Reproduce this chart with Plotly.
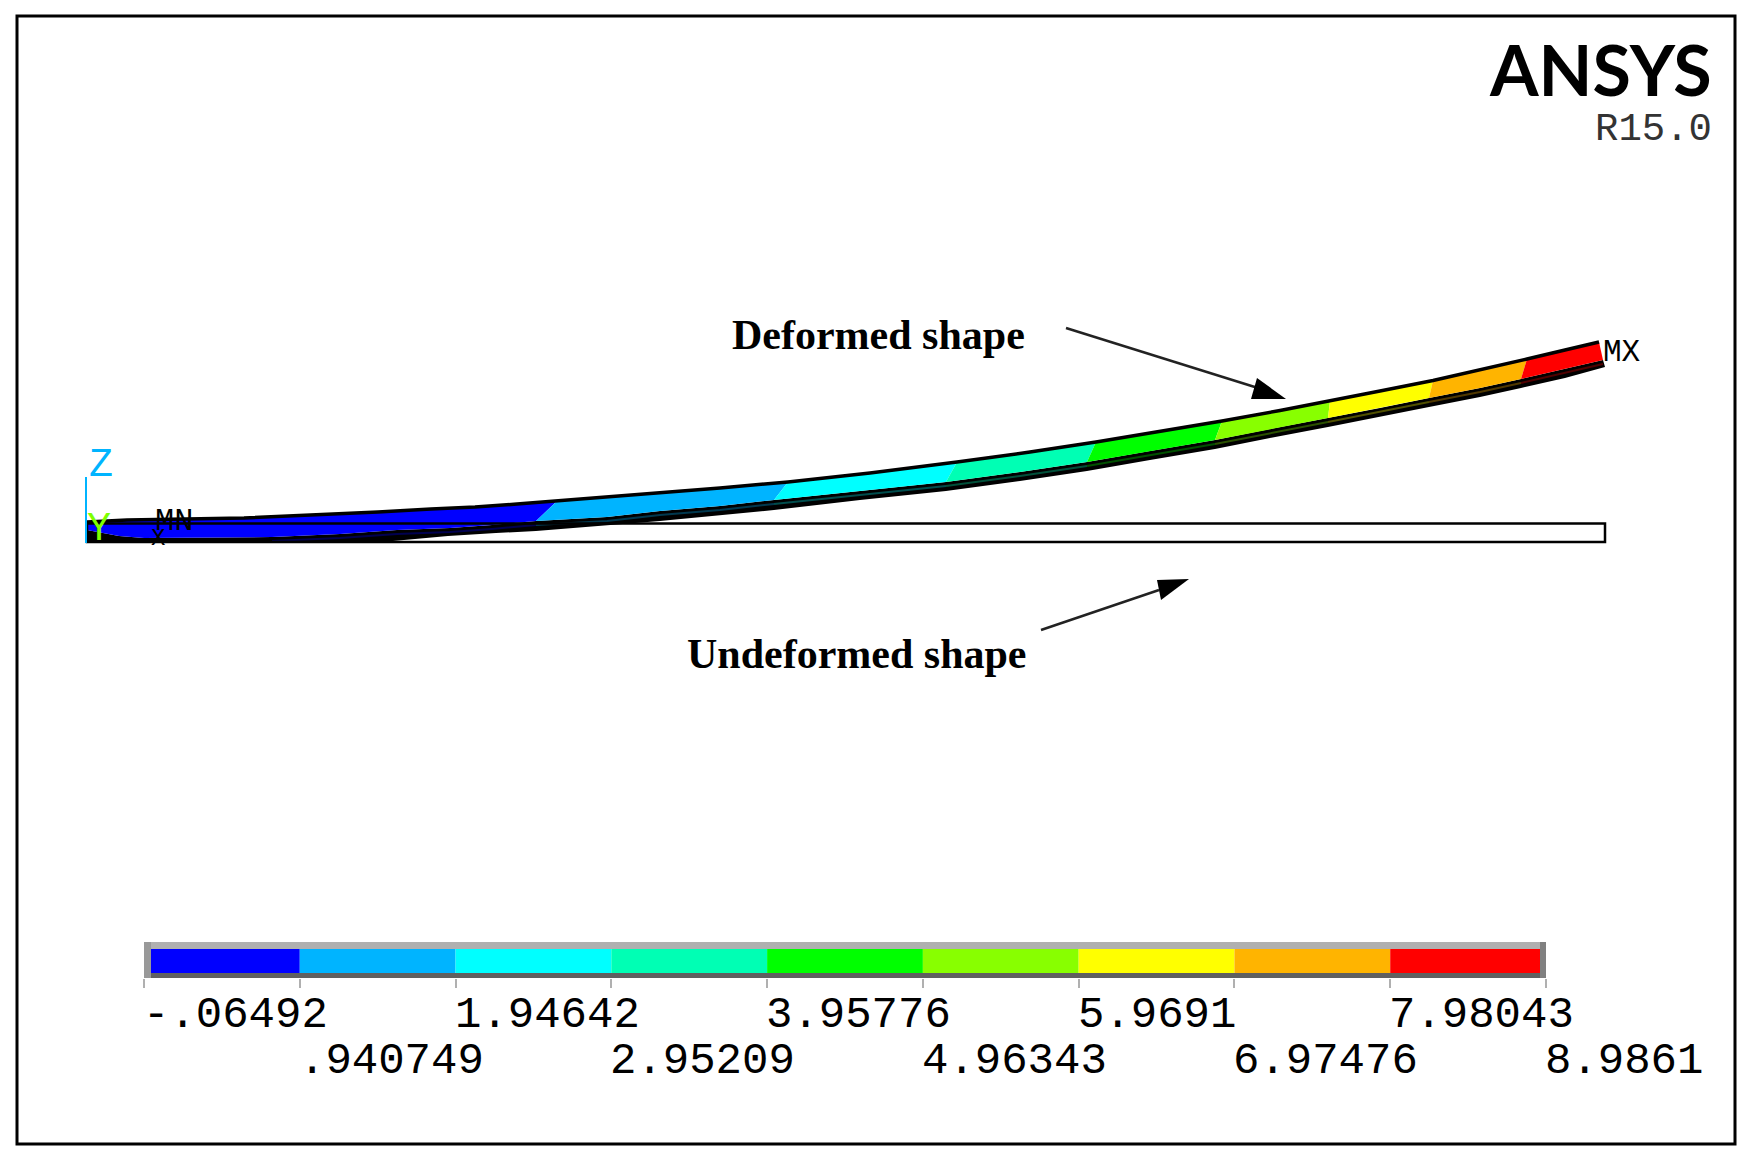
import plotly.graph_objects as go

# contour levels and colours of the legend bar
levels = [-0.06492, 0.940749, 1.94642, 2.95209, 3.95776, 4.96343, 5.9691, 6.97476, 7.98043, 8.9861]
level_labels = ["-.06492", ".940749", "1.94642", "2.95209", "3.95776", "4.96343", "5.9691", "6.97476", "7.98043", "8.9861"]
band_colors = ["#0000ff", "#00b4ff", "#00ffff", "#00ffb4", "#00ff00", "#88ff00", "#ffff00", "#ffb400", "#ff0000"]
band_dark = ["#000050", "#00384f", "#004d4d", "#00503a", "#005000", "#2a5000", "#505000", "#503800", "#500000"]

# deformed beam (image pixels)
top_x = [87, 127, 244, 316, 378, 431, 475, 517, 557, 622, 660, 720, 788, 870, 957, 1030, 1096, 1160, 1222, 1280, 1330, 1380, 1433, 1480, 1527, 1565, 1599]
top_y = [522, 520, 518, 515, 512, 509, 507, 504, 501, 496, 493, 488, 482, 473, 462, 452, 442, 431.5, 421, 410.5, 401, 391, 380.5, 370, 359, 350, 342]
mid_x = [87, 119, 144, 272, 340, 397, 450, 492, 536, 607, 660, 720, 774, 860, 946, 1020, 1087, 1150, 1215, 1270, 1328, 1380, 1429, 1480, 1521, 1565, 1603]
mid_y = [530, 536, 538, 537, 534, 530, 528, 525, 521, 517, 511, 506, 500, 491, 482, 472, 462, 451, 440, 429, 418, 408, 398, 388, 379, 369, 360]
bot_x = [87, 393, 448, 496, 536, 575, 611, 660, 774, 860, 946, 1020, 1087, 1150, 1215, 1270, 1328, 1380, 1429, 1480, 1521, 1565, 1605]
bot_y = [541, 541, 536, 533, 531, 528, 525, 521, 510, 500, 491, 481, 471, 460, 449, 438, 427, 417, 407, 397, 388, 378, 367]

# where each contour band meets the top and the bottom of the beam
band_top_x = [87, 557, 788, 957, 1096, 1222, 1330, 1433, 1527, 1599]
band_mid_x = [87, 536, 774, 946, 1087, 1215, 1328, 1429, 1521, 1603]

# undeformed outline
undef_x = [87, 1605, 1605, 87, 87]
undef_y = [523.5, 523.5, 542, 542, 523.5]

# pointers
deformed_arrow_x = [1066, 1258]
deformed_arrow_y = [328, 388]
deformed_head_x = [1257, 1286, 1251]
deformed_head_y = [378, 399, 399]
undeformed_arrow_x = [1041, 1159]
undeformed_arrow_y = [630, 590]
undeformed_head_x = [1157, 1189, 1161]
undeformed_head_y = [580, 579, 600]

# the page puts the figure 8px in from the corner, so the axes start there
PAGE_OFFSET = 8
FIG_W = 1750 - PAGE_OFFSET
FIG_H = 1160 - PAGE_OFFSET

fig = go.Figure()


def poly(xs, ys, color):
    fig.add_trace(go.Scatter(x=xs, y=ys, mode="lines", fill="toself", fillcolor=color,
                             line=dict(color=color, width=0), hoverinfo="skip", showlegend=False))


def line(xs, ys, color, width):
    fig.add_trace(go.Scatter(x=xs, y=ys, mode="lines", line=dict(color=color, width=width),
                             hoverinfo="skip", showlegend=False))


# black underside, then the dark tinted strip in it
poly(mid_x + bot_x[::-1], mid_y + bot_y[::-1], "black")
for i in range(len(band_colors)):
    xs = [x for x in mid_x if band_mid_x[i] <= x <= band_mid_x[i + 1] and x >= 272]
    ys = [mid_y[mid_x.index(x)] + 4 for x in xs]
    line(xs, ys, band_dark[i], 2)

# coloured face of the beam
for i in range(len(band_colors)):
    tx = [x for x in top_x if band_top_x[i] <= x <= band_top_x[i + 1]]
    ty = [top_y[top_x.index(x)] for x in tx]
    mx = [x for x in mid_x if band_mid_x[i] <= x <= band_mid_x[i + 1]]
    my = [mid_y[mid_x.index(x)] for x in mx]
    poly(tx + mx[::-1], ty + my[::-1], band_colors[i])

line(top_x, top_y, "black", 3.5)
line(undef_x, undef_y, "black", 2.5)

# triad
line([86, 86], [477, 543], "#00b4ff", 2)

# pointers
line(deformed_arrow_x, deformed_arrow_y, "#222222", 2.5)
poly(deformed_head_x, deformed_head_y, "black")
line(undeformed_arrow_x, undeformed_arrow_y, "#222222", 2.5)
poly(undeformed_head_x, undeformed_head_y, "black")

# legend bar, on its own axis in contour units
for i in range(len(band_colors)):
    fig.add_trace(go.Bar(x=[levels[i + 1] - levels[i]], y=[1], base=[levels[i]], orientation="h",
                         width=1, marker=dict(color=band_colors[i], line=dict(width=0)),
                         xaxis="x2", yaxis="y2", hoverinfo="skip", showlegend=False))


def label(x, y, text, size, color="black", family="Liberation Mono", anchor="center"):
    fig.add_annotation(x=x, y=y, xref="x", yref="y", text=text, showarrow=False, xanchor=anchor,
                       yanchor="middle", font=dict(family=family, size=size, color=color),
                       borderpad=0, borderwidth=0)


label(1712, 69, "<b>ANSYS</b>", 70, family="Lato", anchor="right")
label(1712, 130, "R15.0", 39, color="#333333", anchor="right")
label(878, 335, "<b>Deformed shape</b>", 42, family="Liberation Serif")
label(857, 654, "<b>Undeformed shape</b>", 42, family="Liberation Serif")
label(1622, 352, "MX", 31)
label(174, 521, "MN", 32)
label(158, 538, "X", 24)
label(101, 465, "Z", 40, color="#00b4ff")
label(99, 529, "Y", 40, color="#7fff00")

# staggered value labels under the ticks
for i, text in enumerate(level_labels):
    fig.add_annotation(x=levels[i], y=1015 if i % 2 == 0 else 1061, xref="x2", yref="y", text=text,
                       showarrow=False, xanchor="left", yanchor="middle", borderpad=0, xshift=-2,
                       font=dict(family="Liberation Mono", size=44, color="black"))

bar_shapes = [
    dict(x0=144, x1=1546, y0=942, y1=949, fillcolor="#b0b0b0"),
    dict(x0=144, x1=1546, y0=973, y1=978, fillcolor="#606060"),
    dict(x0=144, x1=151, y0=942, y1=978, fillcolor="#999999"),
    dict(x0=1540, x1=1546, y0=942, y1=978, fillcolor="#808080"),
]
for s in bar_shapes:
    fig.add_shape(type="rect", xref="x", yref="y", line=dict(width=0), layer="above", **s)

# plot frame
fig.add_shape(type="rect", xref="x", yref="y", x0=17, x1=1735, y0=16, y1=1144,
              line=dict(color="black", width=3))

fig.update_layout(
    width=FIG_W, height=FIG_H, margin=dict(l=0, r=0, t=0, b=0),
    paper_bgcolor="white", plot_bgcolor="white", showlegend=False, barmode="overlay",
    xaxis=dict(range=[PAGE_OFFSET, 1750], domain=[0, 1], visible=False),
    yaxis=dict(range=[1160, PAGE_OFFSET], domain=[0, 1], visible=False),
    xaxis2=dict(range=[levels[0], levels[-1]], anchor="y2",
                domain=[(144 - PAGE_OFFSET) / FIG_W, (1546 - PAGE_OFFSET) / FIG_W],
                tickvals=levels, showticklabels=False, ticks="outside", ticklen=9, tickwidth=2,
                tickcolor="#b0b0b0", showgrid=False, zeroline=False, showline=False),
    yaxis2=dict(range=[0.5, 1.5], domain=[(1160 - 978) / FIG_H, (1160 - 942) / FIG_H], anchor="x2", visible=False),
)

fig.write_html("out.html")
